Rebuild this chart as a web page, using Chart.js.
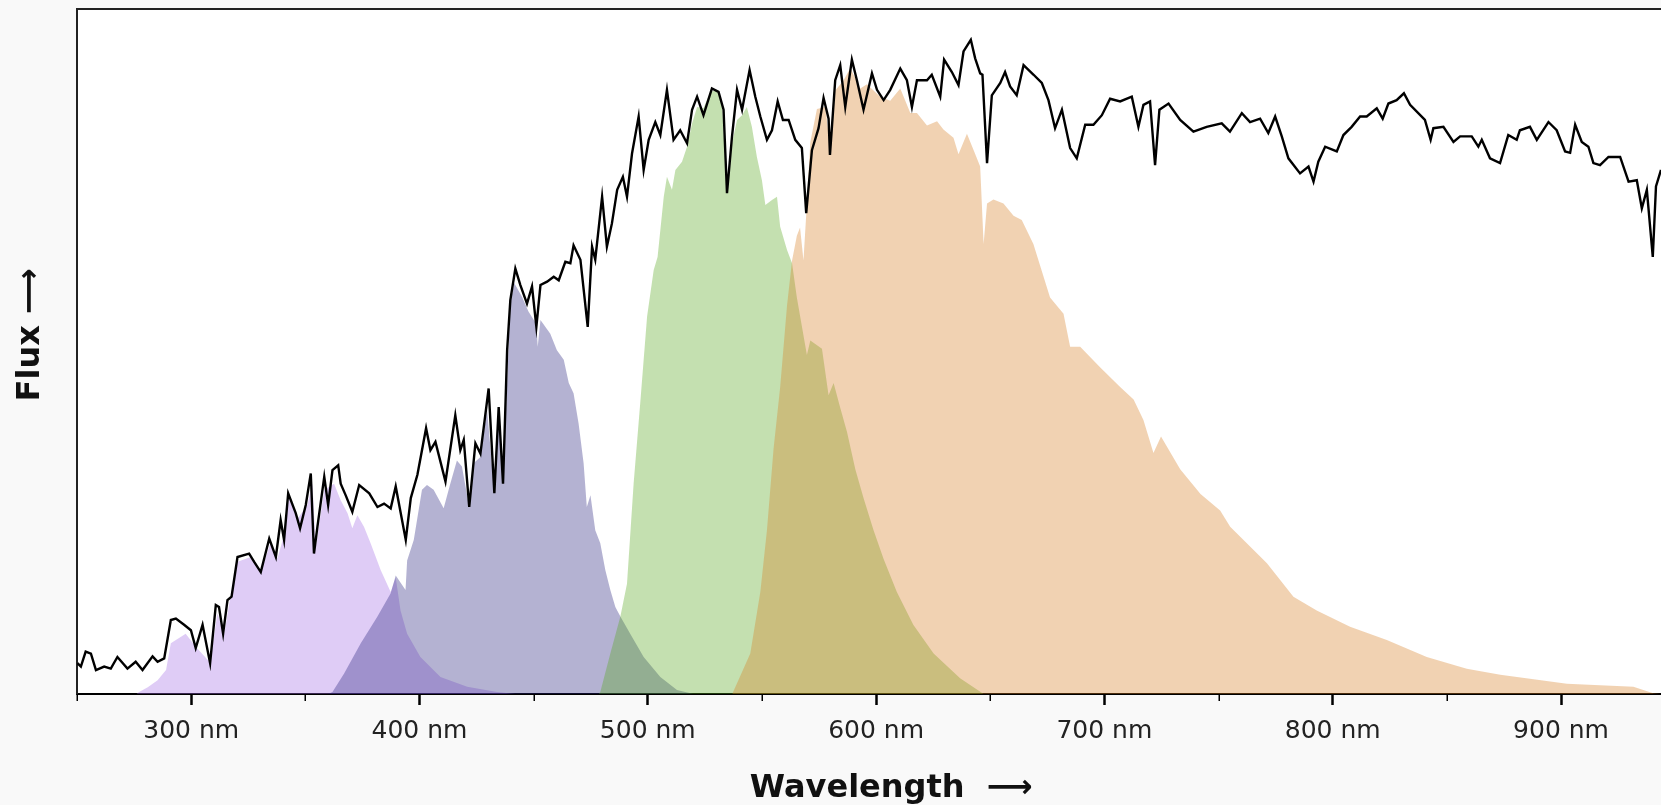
<!DOCTYPE html>
<html>
<head>
<meta charset="utf-8">
<title>Spectrum and filter bands</title>
<script src="https://cdn.jsdelivr.net/npm/chart.js@4.4.1/dist/chart.umd.min.js"></script>
<style>
    html, body { margin: 0; padding: 0; background: #f9f9f9; overflow: hidden; }
</style>
</head>
<body>
<canvas id="spectrumChart" width="1661" height="805"></canvas>
<script>
// Stellar spectrum (wavelength in nm, flux in arbitrary units 0-100)
const specWl = [250.2, 251.7, 253.8, 256.1, 258.3, 261.9, 264.8, 267.7, 272.1, 275.7, 278.7, 283.1, 285.3, 288.2, 291.1, 293.3, 296.9, 299.9, 302.0, 305.0,
    308.3, 310.8, 312.2, 314.0, 315.9, 317.7, 320.3, 325.4, 327.6, 330.5, 334.2, 337.1, 339.2, 340.7, 342.5, 345.8, 347.7, 350.2, 352.4, 353.8,
    355.3, 358.3, 360.0, 361.9, 364.4, 365.5, 367.7, 370.6, 373.6, 378.0, 381.6, 384.5, 387.4, 389.6, 394.0, 396.2, 399.1, 402.9, 404.8, 407.0,
    411.4, 415.7, 417.9, 419.4, 421.8, 424.5, 426.7, 430.3, 432.8, 434.7, 436.6, 438.4, 439.8, 442.0, 444.2, 447.1, 449.3, 451.2, 453.0, 455.9,
    458.8, 461.0, 463.9, 466.1, 467.5, 470.5, 473.7, 475.6, 477.0, 480.0, 482.1, 484.3, 486.6, 489.1, 490.9, 493.1, 496.0, 498.2, 500.4, 503.3,
    505.5, 508.4, 511.3, 514.2, 517.2, 519.4, 521.6, 524.4, 528.1, 531.0, 533.2, 534.7, 536.9, 539.1, 541.3, 544.6, 547.1, 549.3, 552.2, 554.4,
    556.9, 559.2, 561.7, 564.6, 567.5, 569.4, 571.9, 574.8, 577.0, 579.2, 579.8, 582.1, 584.3, 586.5, 589.4, 591.6, 594.5, 598.2, 600.4, 603.3,
    606.2, 610.6, 613.5, 615.7, 617.9, 622.3, 624.4, 628.1, 629.8, 633.2, 636.1, 638.3, 641.5, 643.4, 645.6, 646.6, 648.6, 650.7, 654.4, 656.5,
    658.7, 661.6, 664.6, 669.0, 672.6, 675.5, 678.4, 681.4, 685.0, 687.9, 691.6, 695.2, 698.9, 702.5, 706.9, 712.0, 714.9, 717.1, 720.0, 722.2,
    724.1, 728.1, 733.2, 739.0, 744.8, 751.4, 755.0, 760.2, 763.8, 768.2, 771.8, 774.8, 777.7, 780.6, 785.7, 789.4, 791.6, 793.7, 796.7, 801.8,
    804.7, 808.3, 812.0, 814.9, 819.3, 821.9, 824.4, 828.0, 831.2, 833.9, 840.4, 842.9, 844.1, 848.5, 852.9, 855.8, 860.9, 863.8, 865.3, 868.9,
    873.3, 876.9, 880.6, 882.0, 886.4, 889.4, 894.5, 898.1, 901.8, 904.0, 906.2, 909.1, 912.0, 914.2, 917.1, 920.8, 925.9, 929.6, 933.2, 935.4,
    937.6, 940.2, 941.6, 943.8];
const specFlux = [4.5, 4.0, 6.2, 5.9, 3.5, 4.0, 3.7, 5.4, 3.7, 4.7, 3.5, 5.5, 4.7, 5.2, 10.8, 11.0, 10.1, 9.3, 6.7, 10.1,
    4.5, 13.0, 12.7, 8.8, 13.7, 14.2, 20.0, 20.5, 19.3, 17.8, 22.7, 20.0, 25.4, 22.5, 29.3, 26.4, 24.2, 27.6, 32.2, 20.5,
    24.4, 31.7, 27.6, 32.7, 33.4, 30.7, 29.0, 26.6, 30.5, 29.3, 27.3, 27.8, 27.1, 30.3, 22.5, 28.6, 32.0, 38.8, 35.6, 36.8,
    31.0, 40.7, 35.6, 37.1, 27.3, 36.6, 35.1, 44.6, 29.3, 41.9, 30.7, 50.2, 57.5, 62.1, 59.7, 57.0, 59.5, 53.6, 59.7, 60.2,
    60.9, 60.4, 63.1, 62.9, 65.5, 63.4, 53.6, 65.3, 63.4, 72.6, 65.3, 68.7, 73.6, 75.5, 72.6, 78.9, 84.3, 76.5, 80.9, 83.5,
    81.6, 88.2, 80.9, 82.3, 80.4, 85.3, 87.2, 84.5, 88.4, 87.9, 85.3, 73.1, 81.4, 88.2, 85.3, 91.1, 87.2, 84.3, 80.9, 82.3,
    86.5, 83.8, 83.8, 80.9, 79.7, 70.2, 79.4, 82.6, 87.0, 84.0, 78.7, 89.6, 91.8, 85.7, 92.6, 89.6, 85.3, 90.6, 88.2, 86.7,
    88.2, 91.3, 89.6, 85.7, 89.6, 89.6, 90.4, 87.2, 92.6, 90.8, 88.9, 93.8, 95.5, 92.8, 90.6, 90.4, 77.5, 87.4, 89.2, 90.8,
    88.7, 87.4, 91.8, 90.4, 89.2, 86.7, 82.6, 85.3, 79.7, 78.2, 83.1, 83.1, 84.5, 86.9, 86.5, 87.2, 82.8, 86.0, 86.5, 77.2,
    85.3, 86.2, 83.8, 82.1, 82.8, 83.3, 82.1, 84.8, 83.5, 84.0, 81.9, 84.3, 81.4, 78.2, 76.0, 77.0, 74.8, 77.7, 79.9, 79.2,
    81.6, 82.8, 84.3, 84.3, 85.5, 84.0, 86.2, 86.7, 87.7, 86.0, 83.8, 80.9, 82.6, 82.8, 80.6, 81.4, 81.4, 79.9, 80.9, 78.2,
    77.5, 81.6, 80.9, 82.3, 82.8, 80.9, 83.5, 82.3, 79.2, 79.0, 83.1, 80.6, 79.9, 77.5, 77.2, 78.4, 78.4, 74.8, 75.0, 70.9,
    73.6, 63.8, 74.1, 76.5];

// Flux seen through each filter band
const uWl = [276.0, 277.2, 281.0, 285.3, 289.0, 291.1, 297.6, 302.0, 308.3, 311.5, 314.5, 316.7, 320.3, 326.1, 330.5, 334.9, 337.8, 340.7, 342.9, 346.6,
    350.9, 353.1, 354.6, 358.3, 362.6, 365.5, 368.5, 370.6, 372.8, 375.7, 378.6, 383.0, 387.4, 389.6, 391.7, 394.6, 400.4, 409.2, 420.9, 434.0, 442.0];
const uFlux = [0, 0.3, 1.0, 2.0, 3.5, 7.4, 8.8, 6.9, 4.6, 11.8, 8.8, 13.2, 19.3, 20.0, 17.8, 22.2, 19.8, 23.2, 28.6, 25.6,
    27.6, 30.7, 21.5, 29.8, 30.7, 28.3, 26.4, 24.2, 26.1, 24.4, 22.0, 18.1, 14.9, 17.0, 12.2, 8.8, 5.4, 2.5, 1.05, 0.3, 0];

const gWl = [360.0, 361.9, 367.0, 374.3, 381.6, 387.4, 389.6, 393.9, 394.6, 397.5, 401.1, 403.3, 406.2, 410.6, 413.5, 416.4, 418.6, 421.8, 423.7, 426.7,
    429.6, 432.5, 434.7, 436.6, 438.4, 439.8, 441.5, 444.9, 447.8, 451.2, 451.8, 453.0, 457.3, 460.2, 463.2, 465.4, 467.5, 469.7, 471.9, 473.3,
    474.9, 477.0, 479.2, 481.4, 483.6, 485.8, 488.0, 492.3, 498.2, 505.5, 512.8, 520.0];
const gFlux = [0, 0.3, 3.0, 7.4, 11.3, 14.7, 17.3, 15.2, 19.5, 22.5, 29.8, 30.5, 29.8, 27.1, 30.7, 34.1, 33.2, 27.3, 33.7, 34.6,
    41.5, 30.7, 39.5, 31.2, 45.4, 57.0, 60.0, 58.0, 55.8, 54.0, 50.7, 54.6, 52.6, 50.2, 48.8, 45.4, 43.9, 39.5, 33.7, 27.3,
    29.0, 23.9, 22.0, 18.1, 15.2, 12.7, 11.3, 8.8, 5.4, 2.5, 0.6, 0];

const vWl = [478.5, 479.2, 483.6, 488.0, 490.9, 493.8, 496.8, 499.7, 502.6, 504.3, 507.0, 508.4, 510.6, 512.1, 515.0, 517.2, 519.4, 521.6, 524.4, 527.4,
    530.3, 532.5, 534.7, 536.9, 539.1, 541.3, 543.4, 545.6, 547.8, 550.0, 551.5, 554.4, 556.6, 558.0, 561.0, 563.2, 565.3, 567.5, 569.7, 571.2,
    576.3, 579.2, 581.4, 584.3, 587.3, 590.9, 594.5, 598.9, 603.3, 609.1, 616.3, 625.2, 636.8, 647.1];
const vFlux = [0, 0.3, 5.9, 11.3, 16.1, 30.7, 42.9, 55.1, 61.9, 63.8, 72.6, 75.5, 73.6, 76.5, 77.7, 79.9, 83.3, 85.7, 85.5, 87.9,
    88.2, 86.2, 73.6, 80.4, 83.8, 84.5, 85.7, 82.8, 78.4, 75.0, 71.4, 72.1, 72.6, 68.2, 64.8, 62.9, 57.9, 53.7, 49.5, 51.6,
    50.4, 43.6, 45.4, 41.8, 38.2, 32.8, 28.6, 23.9, 19.7, 14.9, 10.1, 5.9, 2.3, 0];

const rWl = [537.0, 544.9, 549.3, 552.2, 555.1, 558.0, 561.0, 563.2, 565.3, 566.7, 568.2, 569.7, 571.2, 574.1, 577.7, 579.9, 581.4, 585.8, 588.7, 593.1,
    596.0, 601.8, 606.2, 610.6, 615.0, 617.9, 622.3, 626.7, 629.5, 633.9, 636.1, 639.8, 642.7, 645.6, 647.1, 648.6, 651.4, 655.8, 660.2, 663.8,
    668.9, 676.2, 682.1, 685.0, 689.4, 698.1, 706.9, 712.8, 717.1, 721.5, 724.8, 733.2, 742.1, 750.7, 755.1, 771.2, 782.8, 793.0, 807.6, 823.7,
    841.2, 858.7, 873.4, 902.6, 931.7, 940.4, 943.8];
const rFlux = [0, 5.9, 14.9, 23.9, 35.8, 44.8, 56.7, 63.3, 66.9, 68.1, 63.3, 71.6, 80.6, 85.4, 85.7, 80.0, 87.8, 89.6, 91.4, 88.4,
    89.0, 87.2, 86.6, 88.4, 84.8, 84.8, 83.0, 83.6, 82.4, 81.2, 78.8, 81.8, 79.4, 77.0, 65.7, 71.6, 72.2, 71.6, 69.8, 69.2,
    65.7, 57.9, 55.5, 50.7, 50.7, 47.7, 44.8, 43.0, 40.0, 35.2, 37.6, 32.8, 29.2, 26.8, 24.4, 19.1, 14.2, 12.2, 9.8, 7.9,
    5.4, 3.7, 2.8, 1.5, 1.05, 0.1, 0];

// Axis ticks
const majorTicks = [300, 400, 500, 600, 700, 800, 900];
const minorTicks = [250, 350, 450, 550, 650, 750, 850];
const xMin = 250;
const xMax = 943.8;

function points(xs, ys) {
    return xs.map((x, i) => ({ x: x, y: ys[i] }));
}

function band(label, xs, ys, color) {
    return {
        label: label,
        data: points(xs, ys),
        backgroundColor: color,
        borderColor: 'transparent',
        borderWidth: 0,
        fill: 'origin',
        pointRadius: 0
    };
}

// white plotting area on the grey page
const plotBackground = {
    id: 'plotBackground',
    beforeDraw(chart) {
        const { ctx, chartArea: a } = chart;
        ctx.save();
        ctx.fillStyle = '#ffffff';
        ctx.fillRect(a.left, a.top, a.right - a.left, a.bottom - a.top);
        ctx.restore();
    }
};

// short minor tick marks between the labelled ones
const minorTickMarks = {
    id: 'minorTickMarks',
    afterDraw(chart) {
        const scale = chart.scales.x;
        const ctx = chart.ctx;
        ctx.save();
        ctx.strokeStyle = '#000';
        ctx.lineWidth = 1.5;
        minorTicks.forEach(v => {
            const px = Math.round(scale.getPixelForValue(v)) + 0.25;
            ctx.beginPath();
            ctx.moveTo(px, scale.top);
            ctx.lineTo(px, scale.top + 7);
            ctx.stroke();
        });
        ctx.restore();
    }
};

const titleFont = { family: "'DejaVu Sans', sans-serif", size: 32, weight: 'bold', lineHeight: 1 };

new Chart(document.getElementById('spectrumChart'), {
    type: 'line',
    data: {
        datasets: [{
            label: 'Spectrum',
            data: points(specWl, specFlux),
            borderColor: '#000',
            borderWidth: 2.4,
            fill: false,
            pointRadius: 0
        },
            band('R', rWl, rFlux, 'rgba(215, 126, 35, 0.35)'),
            band('V', vWl, vFlux, 'rgba(86, 166, 29, 0.35)'),
            band('B', gWl, gFlux, 'rgba(41, 35, 126, 0.35)'),
            band('U', uWl, uFlux, 'rgba(164, 109, 229, 0.35)')
        ]
    },
    options: {
        responsive: false,
        animation: false,
        events: [],
        layout: { padding: 0 },
        elements: { line: { tension: 0 } },
        plugins: {
            legend: { display: false },
            tooltip: { enabled: false }
        },
        scales: {
            x: {
                type: 'linear',
                position: 'bottom',
                min: xMin,
                max: xMax,
                afterBuildTicks(scale) {
                    scale.ticks = majorTicks.map(v => ({ value: v }));
                },
                afterFit(scale) { scale.height = 111; },
                ticks: {
                    autoSkip: false,
                    maxRotation: 0,
                    padding: 11,
                    color: '#222',
                    font: { family: "'DejaVu Sans', sans-serif", size: 25 },
                    callback: v => v + ' nm'
                },
                grid: {
                    display: true,
                    drawOnChartArea: false,
                    drawTicks: true,
                    tickLength: 11,
                    tickWidth: 2.5,
                    tickColor: '#000'
                },
                border: { display: true, color: '#000', width: 2 },
                title: {
                    display: true,
                    text: '    Wavelength  \u27F6',
                    color: '#111',
                    font: titleFont,
                    padding: 0
                }
            },
            xTop: {
                type: 'linear',
                position: 'top',
                min: xMin,
                max: xMax,
                afterFit(scale) { scale.height = 9; },
                ticks: { display: false },
                grid: { display: false },
                border: { display: true, color: '#222', width: 2 }
            },
            y: {
                min: 0,
                max: 100,
                afterFit(scale) { scale.width = 77; },
                ticks: { display: false },
                grid: { display: false },
                border: { display: true, color: '#222', width: 2 },
                title: {
                    display: true,
                    text: '   Flux \u27F6',
                    color: '#111',
                    font: titleFont,
                    padding: { top: 15, bottom: 0 }
                }
            }
        }
    },
    plugins: [plotBackground, minorTickMarks]
});
</script>
</body>
</html>
